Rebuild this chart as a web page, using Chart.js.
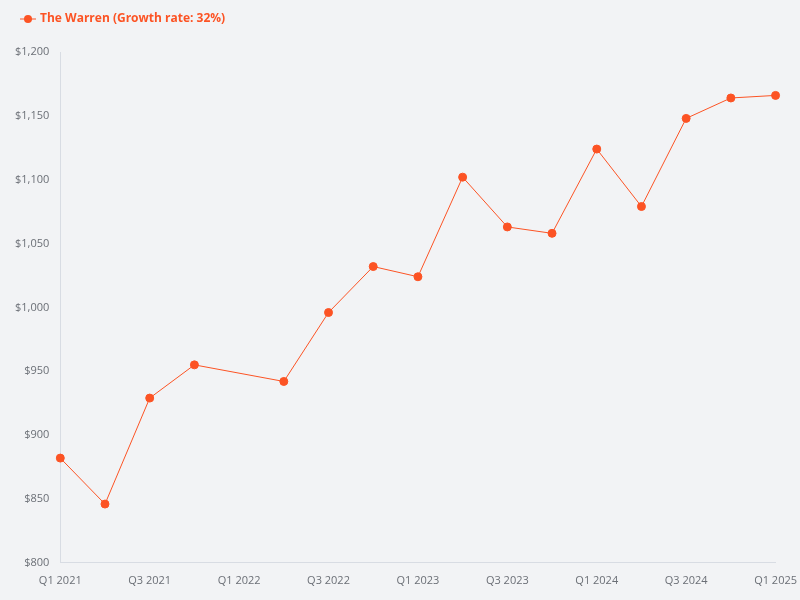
<!DOCTYPE html>
<html><head><meta charset="utf-8">
<script src="https://cdn.jsdelivr.net/npm/chart.js@4"></script>
<style>html,body{margin:0;background:#f2f3f5}#wrap{width:800px;height:600px}</style>
</head><body><div id="wrap"><canvas id="c"></canvas></div>
<script>
const quarters = ['Q1 2021','Q2 2021','Q3 2021','Q4 2021','Q1 2022','Q2 2022','Q3 2022','Q4 2022',
  'Q1 2023','Q2 2023','Q3 2023','Q4 2023','Q1 2024','Q2 2024','Q3 2024','Q4 2024','Q1 2025'];
const values = [882, 846, 929, 955, null, 942, 996, 1032, 1024, 1102, 1063, 1058, 1124, 1079, 1148, 1164, 1166];
const seriesName = 'The Warren (Growth rate: 32%)';

const ORANGE = '#fc5324';

// legend marker: short line with a dot
const mark = document.createElement('canvas');
mark.width = 16; mark.height = 10;
const m = mark.getContext('2d');
m.strokeStyle = ORANGE; m.lineWidth = 1;
m.beginPath(); m.moveTo(0, 5); m.lineTo(16, 5); m.stroke();
m.fillStyle = ORANGE; m.beginPath(); m.arc(8, 5, 4, 0, Math.PI * 2); m.fill();

// extra room under the legend
const legendGap = {
  id: 'legendGap',
  beforeInit(chart) {
    const fit = chart.legend.fit;
    chart.legend.fit = function () { fit.bind(chart.legend)(); this.height += 17; };
  },
};

new Chart(document.getElementById('c'), {
  type: 'line',
  data: {
    labels: quarters,
    datasets: [{
      label: seriesName, data: values, spanGaps: true,
      borderColor: ORANGE, backgroundColor: ORANGE, borderWidth: 1,
      pointRadius: 4, pointHoverRadius: 5, tension: 0,
    }],
  },
  plugins: [legendGap],
  options: {
    responsive: true, maintainAspectRatio: false, animation: false,
    layout: { padding: { left: 12, right: 14, top: 3, bottom: 10 } },
    plugins: {
      legend: {
        align: 'start',
        labels: {
          usePointStyle: true, color: ORANGE,
          font: { family: 'Open Sans', size: 12, weight: 'bold' },
          generateLabels: () => [{ text: seriesName, pointStyle: mark, fontColor: ORANGE, datasetIndex: 0 }],
        },
      },
      tooltip: { enabled: true },
    },
    scales: {
      x: {
        grid: { display: false },
        border: { color: '#d8dce3' },
        ticks: { color: '#6b6f76', font: { family: 'Open Sans', size: 11 }, maxRotation: 0, autoSkip: true, maxTicksLimit: 9 },
      },
      y: {
        min: 800, max: 1200,
        grid: { display: false },
        border: { color: '#d8dce3' },
        ticks: { stepSize: 50, color: '#6b6f76', font: { family: 'Open Sans', size: 11 }, callback: v => '$' + v.toLocaleString('en-US') },
      },
    },
  },
});
</script></body></html>
